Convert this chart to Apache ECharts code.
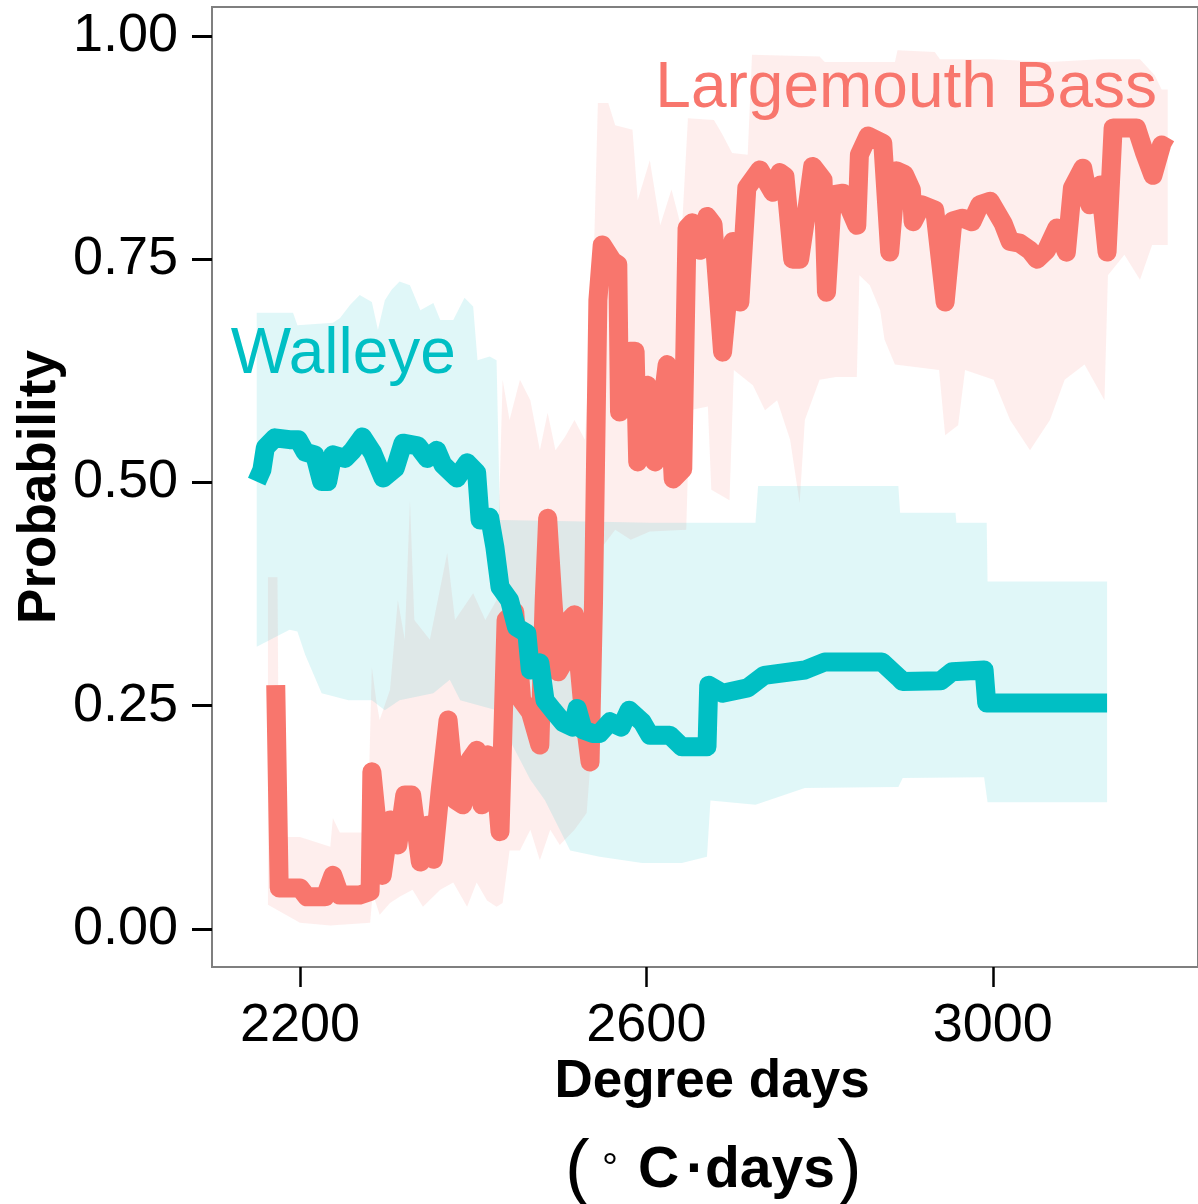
<!DOCTYPE html>
<html>
<head>
<meta charset="utf-8">
<script src="https://cdn.jsdelivr.net/npm/echarts@6/dist/echarts.min.js"></script>
<style>
html,body{margin:0;padding:0;background:#fff;}
#chart{width:1198px;height:1204px;}
</style>
</head>
<body>
<div id="chart"></div>
<script>
// ---- Data ----
const xTicks = [2200, 2600, 3000];
const yTicks = [0, 0.25, 0.5, 0.75, 1];

// Largemouth Bass mean probability
const bassLine = [
 [2172,0.273],[2176,0.046],[2200,0.046],[2208,0.036],[2229,0.036],[2238,0.060],[2246,0.038],[2269,0.038],[2281,0.042],
 [2283,0.176],[2295,0.060],[2304,0.122],[2313,0.094],[2321,0.150],[2329,0.150],[2339,0.075],[2347,0.116],[2354,0.078],
 [2362,0.156],[2371,0.234],[2380,0.144],[2388,0.139],[2396,0.189],[2404,0.200],[2410,0.139],[2417,0.195],[2424,0.191],
 [2431,0.109],[2438,0.346],[2448,0.355],[2456,0.256],[2466,0.243],[2477,0.206],[2482,0.368],[2486,0.460],[2492,0.368],
 [2498,0.288],[2506,0.301],[2509,0.344],[2517,0.352],[2526,0.256],[2535,0.187],[2539,0.368],[2544,0.704],[2549,0.766],
 [2561,0.748],[2567,0.744],[2569,0.579],[2575,0.600],[2581,0.647],[2587,0.647],[2590,0.523],[2601,0.609],[2610,0.523],
 [2624,0.632],[2631,0.504],[2642,0.515],[2647,0.785],[2653,0.791],[2662,0.760],[2670,0.798],[2677,0.789],[2688,0.646],
 [2700,0.770],[2708,0.702],[2716,0.830],[2731,0.850],[2746,0.825],[2754,0.847],[2760,0.843],[2769,0.750],[2777,0.750],
 [2785,0.803],[2792,0.854],[2804,0.839],[2808,0.713],[2815,0.822],[2827,0.824],[2843,0.788],[2846,0.867],[2856,0.888],
 [2873,0.880],[2881,0.758],[2889,0.849],[2898,0.845],[2906,0.828],[2908,0.792],[2918,0.811],[2933,0.805],[2945,0.702],
 [2954,0.793],[2965,0.796],[2976,0.792],[2985,0.811],[2997,0.815],[3012,0.790],[3020,0.770],[3031,0.768],[3043,0.760],
 [3051,0.750],[3062,0.760],[3074,0.785],[3085,0.758],[3092,0.830],[3104,0.852],[3112,0.811],[3124,0.833],[3132,0.758],
 [3139,0.897],[3155,0.897],[3166,0.897],[3175,0.870],[3185,0.844],[3195,0.878],[3204,0.873]
];

// Walleye mean probability
const walleyeLine = [
 [2150,0.501],[2156,0.514],[2160,0.539],[2171,0.550],[2188,0.548],[2198,0.548],[2206,0.534],[2217,0.531],[2225,0.501],
 [2232,0.501],[2238,0.531],[2252,0.527],[2261,0.536],[2272,0.551],[2284,0.533],[2296,0.505],[2310,0.516],[2319,0.544],
 [2336,0.541],[2347,0.527],[2358,0.536],[2365,0.520],[2381,0.505],[2393,0.522],[2404,0.511],[2408,0.458],[2419,0.461],
 [2425,0.428],[2431,0.383],[2442,0.368],[2450,0.338],[2462,0.331],[2466,0.290],[2477,0.298],[2483,0.256],[2492,0.245],
 [2504,0.231],[2515,0.226],[2520,0.247],[2527,0.223],[2538,0.219],[2546,0.219],[2558,0.232],[2571,0.226],[2580,0.245],
 [2595,0.232],[2604,0.217],[2627,0.217],[2641,0.204],[2670,0.204],[2672,0.273],[2688,0.264],[2717,0.270],[2736,0.284],
 [2783,0.290],[2806,0.299],[2872,0.299],[2891,0.282],[2896,0.277],[2940,0.278],[2953,0.288],[2990,0.290],[2993,0.253],
 [3132,0.253]
];

// Walleye credible band
const walleyeBandUpper = [
 [2150,0.690],[2192,0.690],[2197,0.676],[2238,0.679],[2246,0.684],[2258,0.699],[2269,0.710],[2283,0.702],[2290,0.671],
 [2298,0.704],[2306,0.716],[2315,0.725],[2327,0.721],[2339,0.693],[2354,0.701],[2362,0.682],[2377,0.682],[2390,0.707],
 [2400,0.697],[2405,0.637],[2419,0.641],[2427,0.637],[2431,0.458],[2546,0.456],[2604,0.455],[2726,0.455],[2729,0.496],
 [2891,0.496],[2893,0.466],[2957,0.466],[2958,0.455],[2993,0.455],[2994,0.389],[3132,0.389]
];
const walleyeBandLower = [
 [2150,0.316],[2188,0.335],[2197,0.333],[2206,0.307],[2225,0.264],[2256,0.256],[2283,0.256],[2298,0.245],[2315,0.256],
 [2354,0.264],[2373,0.279],[2385,0.256],[2408,0.250],[2427,0.245],[2442,0.212],[2466,0.167],[2483,0.144],[2500,0.111],
 [2512,0.088],[2546,0.081],[2595,0.074],[2641,0.074],[2670,0.081],[2674,0.144],[2726,0.139],[2783,0.158],[2891,0.159],
 [2896,0.169],[2990,0.170],[2994,0.142],[3132,0.142]
];

// Largemouth Bass credible band
const bassBandUpper = [
 [2163,0.394],[2174,0.394],[2176,0.103],[2200,0.103],[2235,0.092],[2238,0.124],[2246,0.108],[2278,0.108],[2283,0.293],
 [2288,0.256],[2292,0.234],[2304,0.268],[2313,0.368],[2321,0.324],[2327,0.480],[2332,0.346],[2350,0.324],[2370,0.421],
 [2379,0.346],[2400,0.376],[2414,0.346],[2427,0.368],[2434,0.615],[2442,0.570],[2454,0.615],[2466,0.592],[2477,0.536],
 [2486,0.578],[2495,0.536],[2506,0.551],[2517,0.570],[2529,0.548],[2538,0.704],[2544,0.925],[2556,0.925],[2564,0.900],
 [2584,0.895],[2590,0.816],[2604,0.861],[2616,0.788],[2629,0.828],[2641,0.783],[2648,0.908],[2678,0.906],[2687,0.891],
 [2699,0.869],[2717,0.867],[2722,0.979],[2800,0.977],[2806,0.971],[2887,0.971],[2890,0.984],[2933,0.982],[2939,0.974],
 [2999,0.974],[3066,0.971],[3124,0.974],[3170,0.974],[3187,0.956],[3195,0.940],[3202,0.940]
];
const bassBandLower = [
 [2163,0.027],[2200,0.007],[2235,0.004],[2281,0.007],[2284,0.040],[2292,0.016],[2304,0.029],[2315,0.036],[2330,0.044],
 [2342,0.025],[2362,0.044],[2377,0.052],[2393,0.025],[2404,0.052],[2416,0.032],[2427,0.025],[2434,0.029],[2442,0.088],
 [2454,0.088],[2466,0.111],[2477,0.077],[2489,0.111],[2500,0.094],[2517,0.111],[2531,0.130],[2541,0.256],[2546,0.424],
 [2564,0.447],[2582,0.436],[2604,0.445],[2646,0.447],[2650,0.581],[2671,0.585],[2675,0.492],[2696,0.480],[2701,0.626],
 [2723,0.609],[2737,0.581],[2751,0.592],[2766,0.548],[2777,0.477],[2783,0.570],[2800,0.615],[2819,0.618],[2843,0.618],
 [2846,0.732],[2858,0.721],[2870,0.693],[2875,0.660],[2887,0.632],[2938,0.626],[2945,0.553],[2960,0.564],[2968,0.626],
 [3001,0.615],[3020,0.570],[3043,0.536],[3066,0.570],[3083,0.615],[3106,0.632],[3129,0.592],[3133,0.732],[3152,0.755],
 [3170,0.727],[3184,0.766],[3202,0.766]
];

const walleyeLabel = {text: 'Walleye', at: [2250, 0.642]};
const bassLabel = {text: 'Largemouth Bass', at: [2900, 0.940]};

// ---- Chart ----
const FONT = '"Liberation Sans", Arial, Helvetica, sans-serif';
const BASS = '#F8766D';
const WALL = '#00BFC4';

function band(upper, lower, fill, z) {
  return {
    type: 'custom',
    coordinateSystem: 'cartesian2d',
    silent: true,
    z: z,
    data: [upper[0]],
    encode: {x: 0, y: 1},
    renderItem: function (params, api) {
      const pts = upper.map(p => api.coord(p)).concat(lower.slice().reverse().map(p => api.coord(p)));
      return {type: 'polygon', shape: {points: pts}, style: {fill: fill}};
    }
  };
}

function textMark(lbl, color) {
  return {
    symbol: 'circle', symbolSize: 0, silent: true,
    itemStyle: {color: 'transparent'},
    label: {show: true, position: 'inside', formatter: lbl.text, fontSize: 64, color: color, fontFamily: FONT},
    data: [{coord: lbl.at}]
  };
}

const chart = echarts.init(document.getElementById('chart'), null, {renderer: 'canvas'});
chart.setOption({
  animation: false,
  backgroundColor: '#ffffff',
  grid: {left: 212, top: 7, width: 992, height: 960, show: true, borderColor: '#7f7f7f', borderWidth: 2, backgroundColor: '#ffffff'},
  xAxis: {
    type: 'value', min: 2098.4, max: 3237,
    splitLine: {show: false},
    axisLine: {show: false, onZero: false},
    axisTick: {show: true, customValues: xTicks, length: 20, lineStyle: {color: '#000', width: 2.5}},
    axisLabel: {customValues: xTicks, fontSize: 54, color: '#000', fontFamily: FONT, margin: 32,
      formatter: v => String(Math.round(v))}
  },
  yAxis: {
    type: 'value', min: -0.0426, max: 1.0325,
    splitLine: {show: false},
    axisLine: {show: false, onZero: false},
    axisTick: {show: true, customValues: yTicks, length: 20, lineStyle: {color: '#000', width: 3}},
    axisLabel: {customValues: yTicks, fontSize: 54, color: '#000', fontFamily: FONT, margin: 34,
      padding: [6, 0, 0, 0],
      formatter: v => Number(v).toFixed(2)}
  },
  series: [
    band(bassBandUpper, bassBandLower, 'rgba(248,118,109,0.12)', 1),
    band(walleyeBandUpper, walleyeBandLower, 'rgba(0,191,196,0.12)', 1),
    {type: 'line', data: bassLine, symbol: 'none', showSymbol: false, z: 3,
     lineStyle: {color: BASS, width: 19, cap: 'butt', join: 'round'},
     markPoint: textMark(bassLabel, BASS)},
    {type: 'line', data: walleyeLine, symbol: 'none', showSymbol: false, z: 4,
     lineStyle: {color: WALL, width: 19, cap: 'butt', join: 'round'},
     markPoint: textMark(walleyeLabel, WALL)}
  ],
  graphic: [
    {type: 'text', x: 40, y: 487, rotation: Math.PI / 2, silent: true,
     style: {text: 'Probability', font: 'bold 53px ' + FONT, fill: '#000', align: 'center', verticalAlign: 'middle'}},
    {type: 'text', x: 712, y: 1082, silent: true,
     style: {text: 'Degree days', font: 'bold 53px ' + FONT, fill: '#000', align: 'center', verticalAlign: 'middle'}},
    {type: 'text', x: 565, y: 1172, silent: true,
     style: {text: '(', font: '74px ' + FONT, fill: '#000', align: 'left', verticalAlign: 'middle'}},
    {type: 'text', x: 602, y: 1170, silent: true,
     style: {text: '\u00B0', font: '40px ' + FONT, fill: '#000', align: 'left', verticalAlign: 'middle'}},
    {type: 'text', x: 638, y: 1171, silent: true,
     style: {text: 'C', font: 'bold 57px ' + FONT, fill: '#000', align: 'left', verticalAlign: 'middle'}},
    {type: 'text', x: 686, y: 1171, silent: true,
     style: {text: '\u00B7', font: 'bold 57px ' + FONT, fill: '#000', align: 'left', verticalAlign: 'middle'}},
    {type: 'text', x: 705, y: 1171, silent: true,
     style: {text: 'days', font: 'bold 57px ' + FONT, fill: '#000', align: 'left', verticalAlign: 'middle'}},
    {type: 'text', x: 837, y: 1172, silent: true,
     style: {text: ')', font: '74px ' + FONT, fill: '#000', align: 'left', verticalAlign: 'middle'}}
  ]
});
</script>
</body>
</html>
